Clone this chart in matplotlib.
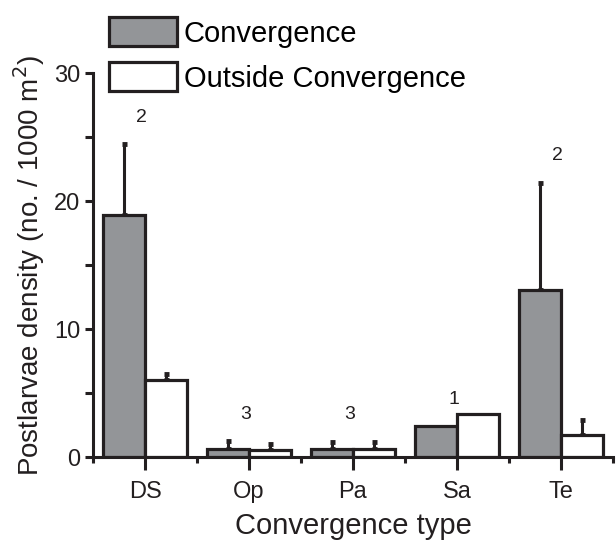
import numpy as np
import matplotlib.pyplot as plt
from matplotlib.ticker import MultipleLocator, FixedLocator

# datos
tipos = ['DS', 'Op', 'Pa', 'Sa', 'Te']
conv = [18.9, 0.65, 0.6, 2.45, 13.05]
conv_err = [5.55, 0.6, 0.55, np.nan, 8.35]
fuera = [6.0, 0.55, 0.6, 3.35, 1.7]
fuera_err = [0.5, 0.45, 0.55, np.nan, 1.2]
n_obs = ['2', '3', '3', '1', '2']
n_y = [26.5, 3.3, 3.3, 4.5, 23.6]

plt.rcParams['font.family'] = ['Liberation Sans', 'DejaVu Sans']

gris = '#939598'
borde = '#231f20'
w = 0.405
x = np.arange(len(tipos))

fig = plt.figure(figsize=(6.16, 5.46), dpi=100)
ax = fig.add_axes([0.151, 0.163, 0.844, 0.703])

ax.bar(x - w/2, conv, w, color=gris, edgecolor=borde, linewidth=2.3, label='Convergence', zorder=2)
ax.bar(x + w/2, fuera, w, color='white', edgecolor=borde, linewidth=2.3, label='Outside Convergence', zorder=2)

for xs, ys, es in [(x - w/2, conv, conv_err), (x + w/2, fuera, fuera_err)]:
	es = np.array(es)
	ok = ~np.isnan(es)		# Sa no tiene barra de error
	ax.errorbar(xs[ok], np.array(ys)[ok], yerr=[np.zeros(ok.sum()), es[ok]], fmt='none', ecolor=borde,
		elinewidth=2.2, capsize=1.8, capthick=3.5, zorder=1)

for i in range(len(tipos)):
	ax.text(x[i] - 0.03, n_y[i], n_obs[i], ha='center', va='center', fontsize=14, color=borde)

ax.set_xlim(-0.5, 4.5)
ax.set_ylim(0, 30)
ax.spines['top'].set_visible(False)
ax.spines['right'].set_visible(False)
for s in ['left', 'bottom']:
	ax.spines[s].set_linewidth(2.2)
	ax.spines[s].set_color(borde)

ax.set_xticks(x)
ax.set_xticklabels(tipos)
ax.xaxis.set_minor_locator(FixedLocator(np.arange(-0.5, 4.6, 1.0)))
ax.yaxis.set_major_locator(MultipleLocator(10))
ax.yaxis.set_minor_locator(MultipleLocator(5))
ax.tick_params(axis='x', which='major', length=9, width=2.2, pad=8, labelsize=17, colors=borde)
ax.tick_params(axis='x', which='minor', length=4.5, width=2.2, colors=borde)
ax.tick_params(axis='y', which='both', length=6, width=2.2, pad=3, labelsize=17, colors=borde)

ax.set_xlabel('Convergence type', fontsize=21, labelpad=7, color=borde)
ax.set_ylabel('Postlarvae density (no. / 1000 m$^2$)', fontsize=20, labelpad=5, color=borde)

leg = fig.legend(loc='upper left', bbox_to_anchor=(0.154, 0.995), frameon=False, fontsize=21,
	handlelength=2.3, handleheight=1.15, handletextpad=0.25, labelspacing=0.5, borderpad=0)
for h in leg.legend_handles:
	h.set_linewidth(2.3)

fig.savefig('out.png', dpi=100)
